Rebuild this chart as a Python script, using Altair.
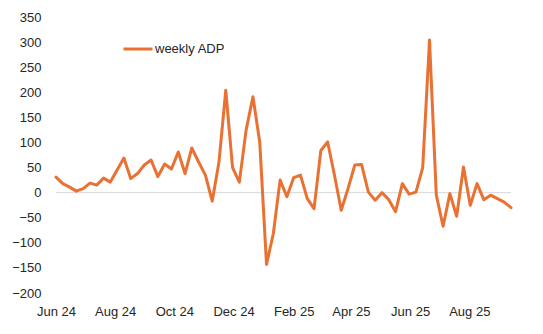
import altair as alt
import pandas as pd

start_date = "2024-06-01"
weekly_adp = [
    31, 18, 11, 3, 8, 19, 15, 29, 21, 45,
    69, 28, 38, 55, 65, 32, 57, 47, 81, 38,
    89, 61, 35, -17, 61, 204, 50, 21, 125, 191,
    101, -143, -82, 25, -8, 30, 35, -12, -32, 84,
    101, 35, -35, 8, 55, 56, 1, -15, 0, -14,
    -38, 18, -3, 1, 50, 304, -5, -67, -2, -47,
    51, -25, 18, -14, -5, -12, -19, -30,
]
series_name = "weekly ADP"
y_ticks = [-200, -150, -100, -50, 0, 50, 100, 150, 200, 250, 300, 350]
x_ticks = ["2024-06-01", "2024-08-01", "2024-10-01", "2024-12-01",
           "2025-02-01", "2025-04-01", "2025-06-01", "2025-08-01"]

dates = pd.date_range(start_date, periods=len(weekly_adp), freq="7D")
df = pd.DataFrame({
    "date": dates.strftime("%Y-%m-%d"),
    "value": weekly_adp,
    "series": series_name,
})

def dt(s):
    y, m, d = (int(p) for p in s.split("-"))
    return alt.DateTime(year=y, month=m, date=d, utc=True)

FONT = "Liberation Sans"
ORANGE = "#E97132"
Y_SCALE = alt.Scale(domain=[-200, 350], nice=False, zero=False)

x_enc = alt.X(
    "date:T",
    scale=alt.Scale(type="utc", domain=[dt(start_date), dt(df["date"].iloc[-1])], nice=False),
    axis=alt.Axis(
        values=[dt(s) for s in x_ticks], format="%b %y", title=None,
        domain=False, ticks=False, grid=False, labelPadding=12,
        labelFont=FONT, labelFontSize=13, labelColor="#262626",
        labelOverlap=False, labelFlush=False,
    ),
)
y_enc = alt.Y(
    "value:Q",
    scale=Y_SCALE,
    axis=alt.Axis(
        values=y_ticks, title=None, domain=False, ticks=False, grid=False,
        labelPadding=15, labelFont=FONT, labelFontSize=13, labelColor="#262626",
        labelOverlap=False, labelFlush=False,
    ),
)

zero = alt.Chart(pd.DataFrame({"value": [0]})).mark_rule(color="#D9D9D9", strokeWidth=1).encode(
    y=y_enc
)

line = alt.Chart(df).mark_line(strokeWidth=3, strokeJoin="round", strokeCap="round").encode(
    x=x_enc,
    y=y_enc,
    color=alt.Color(
        "series:N",
        scale=alt.Scale(domain=[series_name], range=[ORANGE]),
        legend=alt.Legend(
            title=None, orient="none", legendX=66, legendY=16,
            symbolType="stroke", symbolSize=840, symbolStrokeWidth=3,
            labelFont=FONT, labelFontSize=13, labelColor="#262626", labelOffset=1,
        ),
    ),
)

chart = alt.layer(zero, line).properties(
    width=455, height=276,
    padding={"left": 56, "top": 17, "right": 32, "bottom": 41},
    autosize=alt.AutoSizeParams(type="none"),
).configure_view(stroke=None)

chart.save("out.html", embed_options={"renderer": "svg", "actions": False})
